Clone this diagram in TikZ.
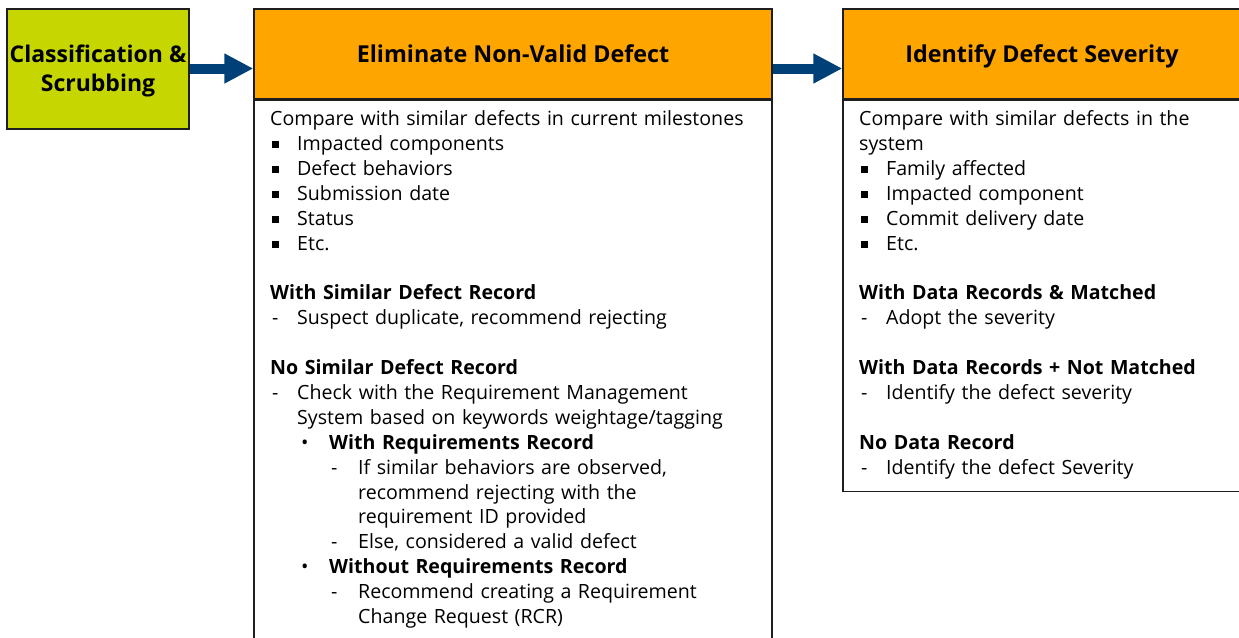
\documentclass[tikz,border=0pt]{standalone}
\usepackage{fontspec}
\setmainfont{Open Sans}
\usetikzlibrary{arrows.meta}

\definecolor{stagegreen}{RGB}{197,214,0}
\definecolor{stageorange}{RGB}{255,165,0}
\definecolor{flowblue}{RGB}{0,64,120}
\definecolor{edgegray}{RGB}{30,30,30}

% list markers with fixed hanging indents
\newcommand\sqmark{\makebox[27pt][l]{\hspace{2pt}\raisebox{2.5pt}{\rule{6.5pt}{6.5pt}}}}
\newcommand\dashmark{\makebox[27pt][l]{\hspace{2pt}-}}
\newcommand\dotmark{\hspace*{31pt}\makebox[28pt][l]{\textbullet}}
\newcommand\subdashmark{\hspace*{61pt}\makebox[27pt][l]{-}}
\newcommand\gapline{\\[24.9pt]}

\tikzset{
  stagebox/.style={draw=edgegray, line width=1.3pt, rectangle, inner sep=0pt},
  headtext/.style={font=\bfseries\fontsize{23.3}{28}\selectfont,
    text height=21pt, text depth=5pt},
  bodytext/.style={font=\fontsize{19.6}{24.9}\selectfont, text width=600pt,
    align=left, inner sep=0pt, anchor=base west},
  flow/.style={flowblue, line width=10pt,
    -{Triangle[length=29pt,width=28pt]}}
}

\begin{document}
\begin{tikzpicture}[x=1pt,y=-1pt]
\useasboundingbox (0,0) rectangle (1239,637);

% first stage
\node[stagebox, fill=stagegreen, minimum width=182pt, minimum height=120pt]
  (scrub) at (98,69) {};
\node[align=center, font=\bfseries\fontsize{23}{29}\selectfont]
  (scrubtext) at (98,71) {Classification \&\\Scrubbing};

% second stage: header and body
\node[stagebox, fill=stageorange, minimum width=518pt, minimum height=90pt,
      headtext] (elimhead) at (513,54) {Eliminate Non-Valid Defect};
\node[stagebox, fill=white, minimum width=518pt, minimum height=580pt,
      anchor=north] (elimbody) at (elimhead.south) {};

% third stage: header and body
\node[stagebox, fill=stageorange, minimum width=398pt, minimum height=90pt,
      headtext] (sevhead) at (1042,54) {Identify Defect Severity};
\node[stagebox, fill=white, minimum width=398pt, minimum height=391pt,
      anchor=north] (sevbody) at (sevhead.south) {};

% connectors
\coordinate (a1) at (scrub.east |- 0,68.5);
\coordinate (a2) at (elimhead.east |- 0,68.5);
\draw[flow] (a1) -- (elimhead.west |- a1);
\draw[flow] (a2) -- (sevhead.west |- a2);

% body texts
\node[bodytext] (elimtext) at (270,125.5) {%
Compare with similar defects in current milestones\\
\sqmark Impacted components\\
\sqmark Defect behaviors\\
\sqmark Submission date\\
\sqmark Status\\
\sqmark Etc.\gapline
\textbf{With Similar Defect Record}\\
\dashmark Suspect duplicate, recommend rejecting\gapline
\textbf{No Similar Defect Record}\\
\dashmark Check with the Requirement Management\\
\hspace*{27pt}System based on keywords weightage/tagging\\
\dotmark\textbf{With Requirements Record}\\
\subdashmark If similar behaviors are observed,\\
\hspace*{88pt}recommend rejecting with the\\
\hspace*{88pt}requirement ID provided\\
\subdashmark Else, considered a valid defect\\
\dotmark\textbf{Without Requirements Record}\\
\subdashmark Recommend creating a Requirement\\
\hspace*{88pt}Change Request (RCR)};

\node[bodytext] (sevtext) at (859,125.5) {%
Compare with similar defects in the\\
system\\
\sqmark Family affected\\
\sqmark Impacted component\\
\sqmark Commit delivery date\\
\sqmark Etc.\gapline
\textbf{With Data Records \& Matched}\\
\dashmark Adopt the severity\gapline
\textbf{With Data Records + Not Matched}\\
\dashmark Identify the defect severity\gapline
\textbf{No Data Record}\\
\dashmark Identify the defect Severity};
\end{tikzpicture}
\end{document}
